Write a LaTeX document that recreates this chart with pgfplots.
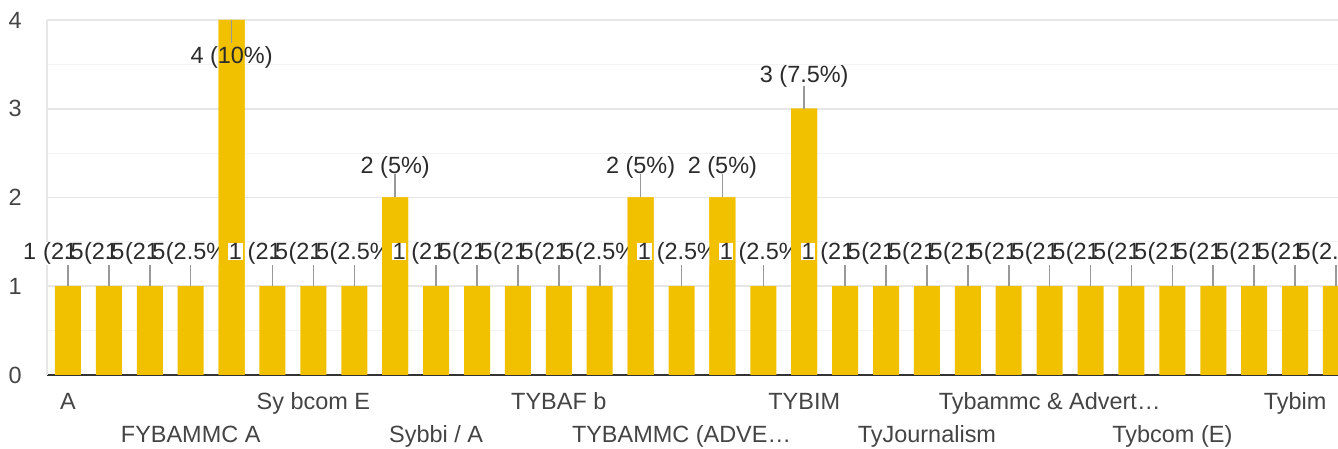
\documentclass[border=0pt]{standalone}
\usepackage{fontspec}
\setmainfont{Liberation Sans}
\usepackage{pgfplots}
\usepackage{pgfplotstable}
\pgfplotsset{compat=1.18}
\definecolor{barcol}{HTML}{F1C100}
\definecolor{labcol}{HTML}{2B2B2B}
\definecolor{tickcol}{HTML}{444444}
\definecolor{gridmaj}{HTML}{E6E6E6}
\definecolor{gridmin}{HTML}{F3F3F3}
\definecolor{axisdark}{HTML}{333333}
\definecolor{leadcol}{HTML}{999999}
\newcommand\chartfont{\fontsize{17.6pt}{20pt}\selectfont}
\setlength{\fboxsep}{0.3pt}
\newcommand\patch[1]{\colorbox{white}{#1}}

\pgfplotstableread[col sep=comma]{
x,y,ep,em
0,1,0.28,0
1,1,0.28,0
2,1,0.28,0
3,1,0.28,0
4,4,0,0.26
5,1,0.28,0
6,1,0.28,0
7,1,0.28,0
8,2,0.27,0
9,1,0.28,0
10,1,0.28,0
11,1,0.28,0
12,1,0.28,0
13,1,0.28,0
14,2,0.27,0
15,1,0.28,0
16,2,0.27,0
17,1,0.28,0
18,3,0.26,0
19,1,0.28,0
20,1,0.28,0
21,1,0.28,0
22,1,0.28,0
23,1,0.28,0
24,1,0.28,0
25,1,0.28,0
26,1,0.28,0
27,1,0.28,0
28,1,0.28,0
29,1,0.28,0
30,1,0.28,0
31,1,0.28,0
}\bars

\pgfplotstableread[col sep=comma]{
x,y,ep,em
4,4,0,0.26
8,2,0.27,0
14,2,0.27,0
16,2,0.27,0
18,3,0.26,0
}\tallbars

\pgfplotstableread[col sep=comma]{
x,ly,lbl
0,1.30,1 \patch{(2.5\%)}
1,1.30,1 \patch{(2.5\%)}
2,1.30,1 \patch{(2.5\%)}
3,1.30,1 \patch{(2.5\%)}
5,1.30,1 \patch{(2.5\%)}
6,1.30,1 \patch{(2.5\%)}
7,1.30,1 \patch{(2.5\%)}
9,1.30,1 \patch{(2.5\%)}
10,1.30,1 \patch{(2.5\%)}
11,1.30,1 \patch{(2.5\%)}
12,1.30,1 \patch{(2.5\%)}
13,1.30,1 \patch{(2.5\%)}
15,1.30,1 \patch{(2.5\%)}
17,1.30,1 \patch{(2.5\%)}
19,1.30,1 \patch{(2.5\%)}
20,1.30,1 \patch{(2.5\%)}
21,1.30,1 \patch{(2.5\%)}
22,1.30,1 \patch{(2.5\%)}
23,1.30,1 \patch{(2.5\%)}
24,1.30,1 \patch{(2.5\%)}
25,1.30,1 \patch{(2.5\%)}
26,1.30,1 \patch{(2.5\%)}
27,1.30,1 \patch{(2.5\%)}
28,1.30,1 \patch{(2.5\%)}
29,1.30,1 \patch{(2.5\%)}
30,1.30,1 \patch{(2.5\%)}
31,1.30,1 \patch{(2.5\%)}
}\labsone

\pgfplotstableread[col sep=comma]{
x,ly,lbl
5,1.30,1
9,1.30,1
15,1.30,1
17,1.30,1
19,1.30,1
}\labsfront

\pgfplotstableread[col sep=comma]{
x,ly,lbl
4,3.515,4 (10\%)
8,2.276,2 (5\%)
14,2.276,2 (5\%)
16,2.276,2 (5\%)
18,3.30,3 (7.5\%)
}\labsbig

\begin{document}
\begin{tikzpicture}
\useasboundingbox (-35.25pt,-55.5pt) rectangle (968.25pt,281.25pt);
\clip (-35.25pt,-55.5pt) rectangle (968.25pt,281.25pt);
\begin{axis}[
  at={(0,0)}, anchor=south west,
  scale only axis, width=968.25pt, height=266.25pt,
  xmin=-0.513, xmax=31.05, ymin=0, ymax=4,
  clip=false, clip marker paths=true,
  axis x line=bottom, axis y line=left,
  axis line style={-},
  x axis line style={draw=axisdark, line width=1.1pt},
  y axis line style={draw=gridmaj, line width=1pt},
  ytick={0,1,2,3,4},
  minor ytick={0.5,1.5,2.5,3.5},
  ymajorgrids, yminorgrids,
  major grid style={draw=gridmaj, line width=1.3pt},
  minor grid style={draw=gridmin, line width=0.9pt},
  major tick length=0pt, minor tick length=0pt,
  xtick={0,6,12,18,24,30},
  xticklabels={A, Sy bcom E, TYBAF b, TYBIM, Tybammc \& Advert…, Tybim},
  extra x ticks={3,9,15,21,27},
  extra x tick labels={FYBAMMC A, Sybbi / A, TYBAMMC (ADVE…, TyJournalism, Tybcom (E)},
  extra x tick style={xticklabel style={yshift=-24.75pt}, major tick length=0pt},
  xticklabel style={anchor=base, inner sep=0pt, yshift=-26.25pt, font=\chartfont, text=tickcol},
  yticklabel style={anchor=east, inner sep=0pt, xshift=-18.75pt, font=\chartfont, text=tickcol},
  /pgf/number format/assume math mode=true,
]
% all bars with leader lines
\addplot[ybar, bar width=19.5pt, bar shift=0pt, fill=barcol, draw=none,
  error bars/.cd, y dir=both, y explicit, error mark=none,
  error bar style={draw=leadcol, line width=1.2pt}]
  table[x=x, y=y, y error plus=ep, y error minus=em]{\bars};
% labels of the bars of height 1; the bracketed part sits on a white patch
\addplot[only marks, mark=*, mark size=0pt, mark options={draw=none, fill=none},
  nodes near coords, point meta=explicit symbolic,
  nodes near coords style={anchor=base, inner sep=0pt, text=labcol, font=\chartfont}]
  table[x=x, y=ly, meta=lbl]{\labsone};
% taller bars drawn again over the label patches
\addplot[ybar, bar width=19.5pt, bar shift=0pt, fill=barcol, draw=none,
  error bars/.cd, y dir=both, y explicit, error mark=none,
  error bar style={draw=leadcol, line width=1.2pt}]
  table[x=x, y=y, y error plus=ep, y error minus=em]{\tallbars};
% leading "1" of the labels that sit over a taller bar
\addplot[only marks, mark=*, mark size=0pt, mark options={draw=none, fill=none},
  nodes near coords, point meta=explicit symbolic,
  nodes near coords style={anchor=base west, xshift=-33.25pt, fill=white, inner sep=0.4pt, text=labcol, font=\chartfont}]
  table[x=x, y=ly, meta=lbl]{\labsfront};
% labels of the taller bars
\addplot[only marks, mark=*, mark size=0pt, mark options={draw=none, fill=none},
  nodes near coords, point meta=explicit symbolic,
  nodes near coords style={anchor=base, inner sep=0.6pt, text=labcol, font=\chartfont}]
  table[x=x, y=ly, meta=lbl]{\labsbig};
\end{axis}
\end{tikzpicture}
\end{document}
